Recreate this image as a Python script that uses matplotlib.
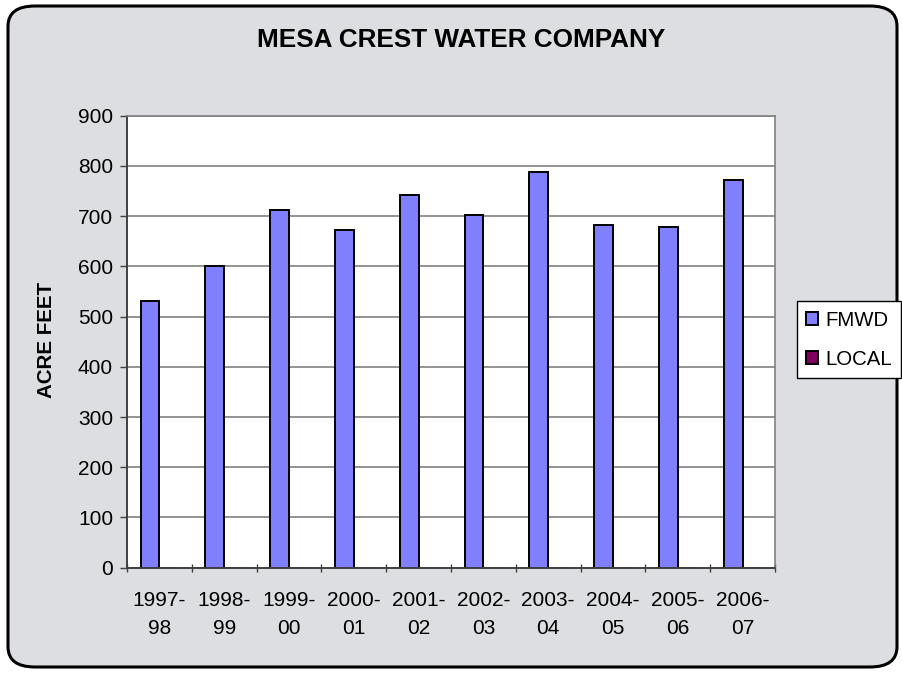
import matplotlib
matplotlib.use("Agg")
import matplotlib.pyplot as plt
from matplotlib.patches import FancyBboxPatch
import numpy as np

plt.rcParams['font.family'] = ['Liberation Sans', 'DejaVu Sans']

years = ["1997-\n98", "1998-\n99", "1999-\n00", "2000-\n01", "2001-\n02",
         "2002-\n03", "2003-\n04", "2004-\n05", "2005-\n06", "2006-\n07"]
fmwd = [531, 600, 712, 672, 743, 703, 788, 683, 679, 771]
local = [0, 0, 0, 0, 0, 0, 0, 0, 0, 0]
yticks = [0, 100, 200, 300, 400, 500, 600, 700, 800, 900]

fig = plt.figure(figsize=(9.03, 6.73), dpi=100)
fig.patch.set_facecolor('white')

# rounded marble-ish panel behind everything
W, H = 903.0, 673.0
frame = FancyBboxPatch((8 / W, 6 / H), (897 - 8) / W, (667 - 6) / H,
                       boxstyle="round,pad=0,rounding_size=0.03",
                       transform=fig.transFigure, facecolor='#dcdee1',
                       edgecolor='black', linewidth=2.2, zorder=-10)
fig.patches.append(frame)

ax = fig.add_axes([127 / W, 1 - 567.7 / H, 648 / W, 452 / H])
ax.set_facecolor('white')

x = np.arange(len(years))
w = 0.29
ax.bar(x - w / 2, fmwd, w, color='#8080ff', edgecolor='black',
       linewidth=1.4, label='FMWD', zorder=2)
ax.bar(x + w / 2, local, w, color='#800060', edgecolor='black',
       linewidth=1.4, label='LOCAL', zorder=1)

ax.set_xlim(-0.5, len(years) - 0.5)
ax.set_ylim(0, 900)
ax.set_yticks(yticks)
ax.yaxis.grid(True, color='#808080', linewidth=1.2)
ax.set_axisbelow(True)

# ticks between categories, labels centred
ax.set_xticks(np.arange(-0.5, len(years), 1.0))
ax.set_xticklabels([])
ax.set_xticks(x, minor=True)
ax.set_xticklabels(years, minor=True, fontsize=15, linespacing=1.6)
ax.tick_params(axis='x', which='major', length=6, width=1, color='#404040',
               direction='inout')
ax.tick_params(axis='x', which='minor', length=0, pad=16.5)
ax.tick_params(axis='y', length=5, width=1, color='#404040', labelsize=15,
               pad=5)

for side in ['top', 'right']:
    ax.spines[side].set_color('#808080')
    ax.spines[side].set_linewidth(1.2)
for side in ['left', 'bottom']:
    ax.spines[side].set_color('#404040')
    ax.spines[side].set_linewidth(1.4)

fig.text(461 / W, 1 - 40 / H, "MESA CREST WATER COMPANY", ha='center',
         va='center', fontsize=18.8, fontweight='bold')
fig.text(47 / W, 1 - 340 / H, "ACRE FEET", ha='center', va='center',
         rotation=90, fontsize=14.8, fontweight='bold')

leg = ax.legend(loc='upper left', bbox_to_anchor=(797 / W, 1 - 301.5 / H),
                bbox_transform=fig.transFigure, fontsize=14.7,
                handlelength=0.6, handleheight=0.6, handletextpad=0.35,
                labelspacing=1.0, borderpad=0.45, borderaxespad=0,
                fancybox=False, framealpha=1, edgecolor='black')
leg.get_frame().set_linewidth(1.0)

fig.savefig("out.png", dpi=100, facecolor=fig.get_facecolor())
